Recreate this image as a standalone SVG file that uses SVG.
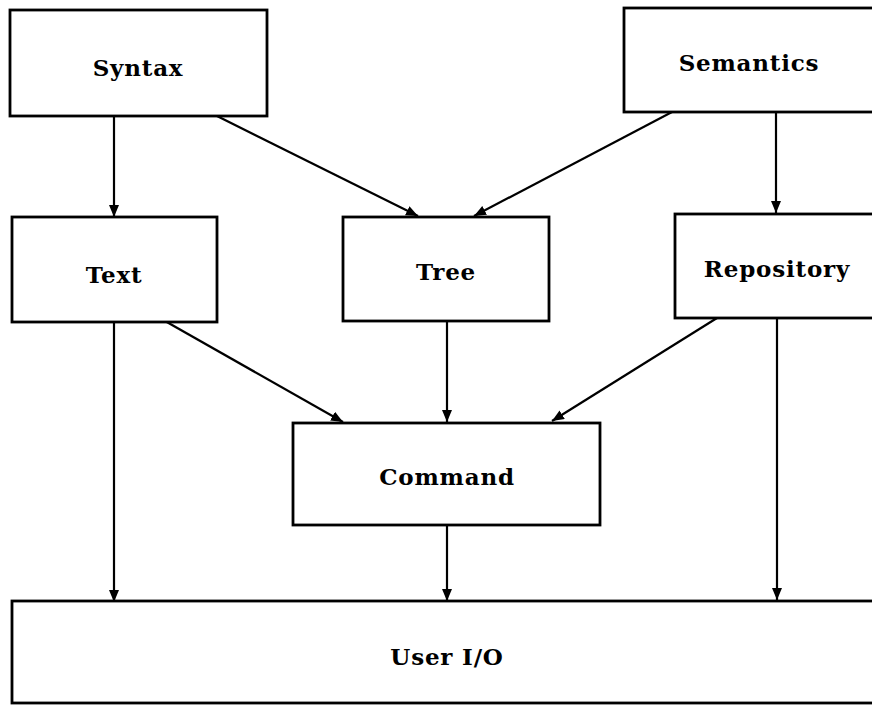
<svg xmlns="http://www.w3.org/2000/svg" width="872" height="706" viewBox="0 0 872 706">
<style>
.box{fill:#fff;stroke:#000;stroke-width:2.8}
.lbl{font-family:"DejaVu Serif","Liberation Serif",serif;font-weight:bold;font-size:23px;text-anchor:middle;fill:#000;letter-spacing:0.8px}
.edge{stroke:#000;stroke-width:2.2;fill:none;marker-end:url(#ah)}
</style>
<defs>
<marker id="ah" markerUnits="userSpaceOnUse" markerWidth="13" markerHeight="11" refX="12" refY="5" orient="auto">
<path d="M0,0 L12,5 L0,10 z" fill="#000"/>
</marker>
</defs>
<rect width="872" height="706" fill="#fff"/>
<g id="connectors">
<line class="edge" x1="114" y1="116" x2="114" y2="217"/>
<line class="edge" x1="217" y1="116" x2="418" y2="216"/>
<line class="edge" x1="672" y1="112" x2="474" y2="216"/>
<line class="edge" x1="776" y1="112" x2="776" y2="213"/>
<line class="edge" x1="165" y1="321" x2="343" y2="422"/>
<line class="edge" x1="447" y1="321" x2="447" y2="422"/>
<line class="edge" x1="717" y1="318" x2="552" y2="421"/>
<line class="edge" x1="114" y1="322" x2="114" y2="602"/>
<line class="edge" x1="447" y1="525" x2="447" y2="601"/>
<line class="edge" x1="777" y1="318" x2="777" y2="600"/>
</g>
<g id="syntax"><rect class="box" x="10" y="10" width="257" height="106"/><text class="lbl" x="138" y="76">Syntax</text></g>
<g id="semantics"><rect class="box" x="624" y="8" width="260" height="104"/><text class="lbl" x="749" y="71">Semantics</text></g>
<g id="text"><rect class="box" x="12" y="217" width="205" height="105"/><text class="lbl" x="114" y="283">Text</text></g>
<g id="tree"><rect class="box" x="343" y="217" width="206" height="104"/><text class="lbl" x="446" y="280">Tree</text></g>
<g id="repository"><rect class="box" x="675" y="214" width="210" height="104"/><text class="lbl" x="777" y="277">Repository</text></g>
<g id="command"><rect class="box" x="293" y="423" width="307" height="102"/><text class="lbl" x="447" y="485">Command</text></g>
<g id="userio"><rect class="box" x="12" y="601" width="875" height="102"/><text class="lbl" x="447" y="665">User I/O</text></g>
</svg>
